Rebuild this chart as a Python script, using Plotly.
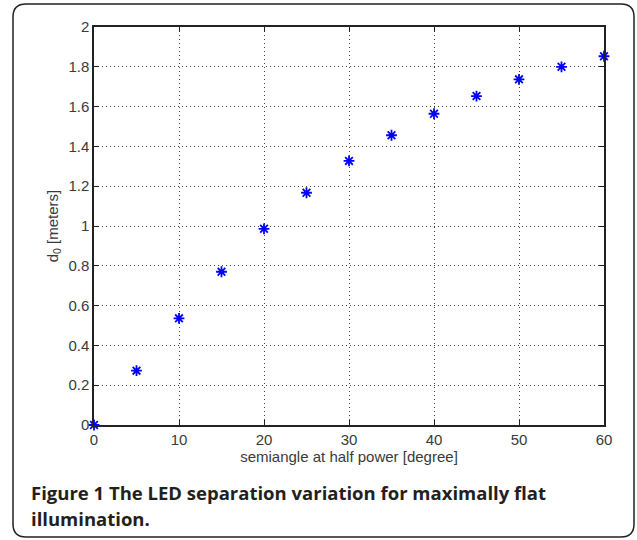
import plotly.graph_objects as go

semiangle = [0, 5, 10, 15, 20, 25, 30, 35, 40, 45, 50, 55, 60]
d0 = [0.0, 0.273, 0.536, 0.770, 0.986, 1.167, 1.327, 1.456, 1.564, 1.653, 1.737, 1.800, 1.853]
x_ticks = [0, 10, 20, 30, 40, 50, 60]
y_ticks = [0, 0.2, 0.4, 0.6, 0.8, 1, 1.2, 1.4, 1.6, 1.8, 2]
y_labels = ["0", "0.2", "0.4", "0.6", "0.8", "1", "1.2", "1.4", "1.6", "1.8", "2"]

W, H = 637, 540
L, R, T, B = 94, 33, 27, 115
pw, ph = W - L - R, H - T - B

def px(x):
    return (x - L) / pw

def py(y):
    return (H - B - y) / ph

fig = go.Figure()
fig.add_trace(go.Scatter(
    x=semiangle, y=d0, mode="markers",
    marker=dict(symbol="asterisk-open", size=9, color="blue",
                line=dict(color="blue", width=1.8)),
    cliponaxis=False, showlegend=False))

txtcol = "#3a3a3a"
tickfont = dict(family="Liberation Sans, Arial", size=15, color=txtcol)
common = dict(showline=True, linecolor="#222222", linewidth=1.5, mirror="ticks",
              ticks="inside", ticklen=5, tickcolor="#222222", tickwidth=1,
              showgrid=True, gridcolor="#444444", griddash="1px,3px", gridwidth=1,
              zeroline=False, tickfont=tickfont)

fig.update_xaxes(range=[0, 60], tickvals=x_ticks, ticktext=[str(v) for v in x_ticks],
                 title=dict(text="semiangle at half power [degree]",
                            font=dict(family="Liberation Sans, Arial", size=15, color=txtcol),
                            standoff=2),
                 **common)
fig.update_yaxes(range=[0, 2], tickvals=y_ticks, ticktext=y_labels,
                 title=dict(text="d<sub>0</sub> [meters]",
                            font=dict(family="Liberation Sans, Arial", size=15, color=txtcol),
                            standoff=6),
                 **common)

# rounded frame
r = 13
def path_rounded():
    xa, xb = 13, 634
    ya, yb = 4, 537
    pts = [
        f"M {px(xa + r)},{py(ya)}",
        f"L {px(xb - r)},{py(ya)}",
        f"Q {px(xb)},{py(ya)} {px(xb)},{py(ya + r)}",
        f"L {px(xb)},{py(yb - r)}",
        f"Q {px(xb)},{py(yb)} {px(xb - r)},{py(yb)}",
        f"L {px(xa + r)},{py(yb)}",
        f"Q {px(xa)},{py(yb)} {px(xa)},{py(yb - r)}",
        f"L {px(xa)},{py(ya + r)}",
        f"Q {px(xa)},{py(ya)} {px(xa + r)},{py(ya)}",
        "Z",
    ]
    return " ".join(pts)

fig.add_shape(type="path", path=path_rounded(), xref="paper", yref="paper",
              line=dict(color="#222222", width=1.5), fillcolor="rgba(0,0,0,0)", layer="below")

cap_font = dict(family="Open Sans, Noto Sans", size=18.5, color="#231f20")
fig.add_annotation(
    text="<b>Figure 1 The LED separation variation for maximally flat</b>",
    xref="paper", yref="paper", x=px(29), y=py(492), xanchor="left", yanchor="middle",
    align="left", showarrow=False, font=cap_font)
fig.add_annotation(
    text="<b>illumination.</b>",
    xref="paper", yref="paper", x=px(29), y=py(518), xanchor="left", yanchor="middle",
    align="left", showarrow=False, font=cap_font)

fig.update_layout(
    width=W, height=H,
    margin=dict(l=L, r=R, t=T, b=B),
    paper_bgcolor="white", plot_bgcolor="white",
)

fig.write_html("out.html")
